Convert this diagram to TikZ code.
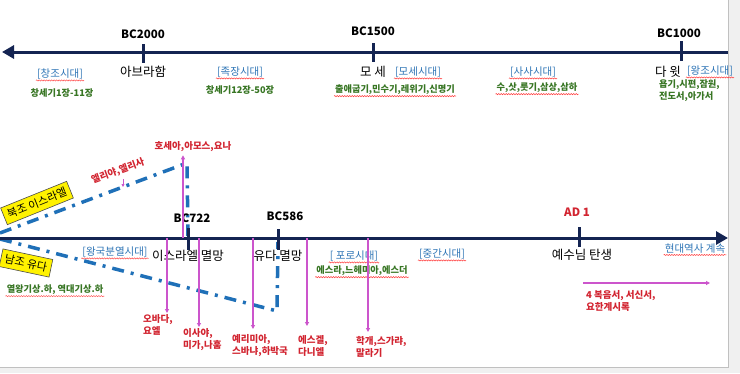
\documentclass[tikz,border=0pt]{standalone}
\usepackage{fontspec}
\setmainfont{Noto Sans CJK KR}
\usetikzlibrary{arrows.meta,decorations.pathmorphing,positioning}

\definecolor{lineNavy}{RGB}{20,36,82}
\definecolor{eraBlue}{RGB}{46,117,182}
\definecolor{bookGreen}{RGB}{56,118,36}
\definecolor{prophetRed}{RGB}{210,36,48}
\definecolor{arrowPink}{RGB}{204,85,204}
\definecolor{kingBlue}{RGB}{31,112,184}
\definecolor{paneGrey}{RGB}{240,240,240}

\begin{document}
\begin{tikzpicture}[x=1pt, y=-1pt,
    every node/.style={inner sep=1pt, font=\fontsize{10}{11}\selectfont},
    year/.style={font=\bfseries\fontsize{11.5}{13}\selectfont},
    event/.style={font=\fontsize{12.5}{14}\selectfont},
    era/.style={text=eraBlue, font=\fontsize{10.5}{12}\selectfont},
    book/.style={text=bookGreen, font=\bfseries\fontsize{9.2}{11.5}\selectfont},
    prophet/.style={text=prophetRed, font=\bfseries\fontsize{9.5}{12.5}\selectfont, align=left, anchor=north west, inner sep=0pt},
    squig/.style={draw=red!75, line width=0.5pt, decorate, decoration={snake, amplitude=0.6pt, segment length=2.5pt}},
    spell/.style={append after command={(\tikzlastnode.south west) edge[squig] (\tikzlastnode.south east)}},
    timeline/.style={draw=lineNavy, line width=3pt},
    tick/.style={draw=lineNavy, line width=3pt},
    kingdom/.style={draw=kingBlue, line width=3.5pt, dash pattern=on 12pt off 7pt on 3pt off 7pt},
    pointer/.style={draw=arrowPink, line width=1.2pt, -{Triangle[length=4pt,width=4pt]}},
    tribe/.style={draw=black!70, fill=yellow, line width=0.6pt, font=\fontsize{11}{12}\selectfont, inner sep=4pt}]

    \useasboundingbox (0,0) rectangle (740,373);
    \fill[paneGrey] (0,0) rectangle (740,373);
    \fill[white] (0,0) rectangle (728,367);
    \draw[paneGrey!80!black, line width=0.4pt] (728,0) -- (728,367) -- (0,367);

    \coordinate (topL) at (2,52);
    \coordinate (topR) at (728,52);
    \draw[timeline, {Triangle[length=12pt,width=13pt]}-] (topL) -- (topR);

    \node[year] (bc2000) at (143,34) {BC2000};
    \node[event] (abraham) at (143,72) {아브라함};
    \node[era, spell] (creation) at (60,74) {[창조시대]};
    \node[book] (genesisA) at (62,93) {창세기1장-11장};
    \node[era, spell] (patriarch) at (240,72) {[족장시대]};
    \node[book] (genesisB) at (240,90) {창세기12장-50장};
    \node[year] (bc1500) at (373,31) {BC1500};
    \node[event] (moses) at (373,72) {모 세};
    \node[era, spell] (mosesEra) at (418,72) {[모세시대]};
    \node[book, spell] (pentateuch) at (395,90) {출애굽기,민수기,레위기,신명기};
    \node[era, spell] (judges) at (533,72) {[사사시대]};
    \node[book, spell] (judgesBooks) at (537,88) {수,삿,룻기,삼상,삼하};
    \node[year] (bc1000) at (679,33) {BC1000};
    \node[event] (david) at (668,72) {다 윗};
    \node[era, spell] (kings) at (710,71) {[왕조시대]};
    \node[book, align=left, anchor=north west] (poetry) at (658,79) {욥기,시편,잠원,\\전도서,아가서};

    \draw[tick] (143,44) -- (143,63);
    \draw[tick] (373,43) -- (373,62);
    \draw[tick] (681,41) -- (681,61);

    \coordinate (north0) at (0,233);
    \coordinate (northTop) at (187,163);
    \coordinate (northEnd) at (188,236);
    \draw[kingdom] (north0) -- (northTop) -- (northEnd);
    \coordinate (south0) at (0,239);
    \coordinate (southLow) at (277,311);
    \coordinate (southEnd) at (278,242);
    \draw[kingdom] (south0) -- (southLow) -- (southEnd);

    \coordinate (midL) at (0,238);
    \coordinate (midR) at (728,238);
    \draw[timeline, -{Triangle[length=12pt,width=13pt]}] (midL) -- (midR);

    \node[tribe, rotate=22] (northKingdom) at (37,203) {북조 이스라엘};
    \node[tribe, rotate=-12] (southKingdom) at (26,263) {남조 유다};

    \node[year] (bc722) at (192,218) {BC722};
    \node[year] (bc586) at (285,216) {BC586};
    \node[year, text=prophetRed] (ad1) at (577,212) {AD 1};
    \node[event] (israelFall) at (188,256) {이스라엘 멸망};
    \node[event] (judahFall) at (278,256) {유다 멸망};
    \node[era, spell] (divided) at (115,252) {[왕국분열시대]};
    \node[book, spell] (kingsBooks) at (55,290) {열왕기상.하, 역대기상.하};
    \node[era, spell] (exile) at (354,256) {[ 포로시대]};
    \node[book, spell] (exileBooks) at (362,271) {에스라,느헤미아,에스더};
    \node[era, spell] (between) at (442,254) {[중간시대]};
    \node[event] (jesus) at (582,255) {예수님 탄생};
    \node[era, spell] (modern) at (695,249) {현대역사 계속};

    \draw[tick] (188,228) -- (188,250);
    \draw[tick] (278,229) -- (278,250);
    \draw[tick] (579,227) -- (579,247);

    \node[prophet, anchor=center] (hosea) at (193,147) {호세아,아모스,요나};
    \coordinate (hoseaFoot) at (183,238);
    \draw[pointer, shorten >=3pt] (hoseaFoot) -- (hoseaFoot |- hosea.south);

    \node[prophet, anchor=center, rotate=20] (elijah) at (118,171) {엘리야,엘리사};
    \coordinate (elijahTail) at (123,179);
    \coordinate (elijahTip) at (123,187);
    \draw[pointer, line width=1pt, -{Triangle[length=3pt,width=3pt]}] (elijahTail) -- (elijahTip);

    \node[prophet] (obadiah) at (143,314) {오바다,\\요엘};
    \coordinate (obadiahFoot) at (167,238);
    \draw[pointer, shorten >=1pt] (obadiahFoot) -- (obadiahFoot |- obadiah.north);

    \node[prophet] (isaiah) at (183,328) {이사야,\\미가,나훔};
    \coordinate (isaiahFoot) at (199,238);
    \draw[pointer, shorten >=1pt] (isaiahFoot) -- (isaiahFoot |- isaiah.north);

    \node[prophet] (jeremiah) at (232,334) {예리미아,\\스바냐,하박국};
    \coordinate (jeremiahFoot) at (253,238);
    \draw[pointer, shorten >=5pt] (jeremiahFoot) -- (jeremiahFoot |- jeremiah.north);

    \node[prophet] (ezekiel) at (298,335) {에스겔,\\다니엘};
    \coordinate (ezekielFoot) at (307,238);
    \draw[pointer, shorten >=9pt] (ezekielFoot) -- (ezekielFoot |- ezekiel.north);

    \node[prophet] (haggai) at (356,336) {학개,스가랴,\\말라기};
    \coordinate (haggaiFoot) at (368,238);
    \draw[pointer, shorten >=4pt] (haggaiFoot) -- (haggaiFoot |- haggai.north);

    \coordinate (ntStart) at (583,283);
    \coordinate (ntEnd) at (710,283);
    \draw[pointer] (ntStart) -- (ntEnd);
    \node[prophet] (newTestament) at (586,290) {4 복음서, 서신서,\\요한계시록};
\end{tikzpicture}
\end{document}
